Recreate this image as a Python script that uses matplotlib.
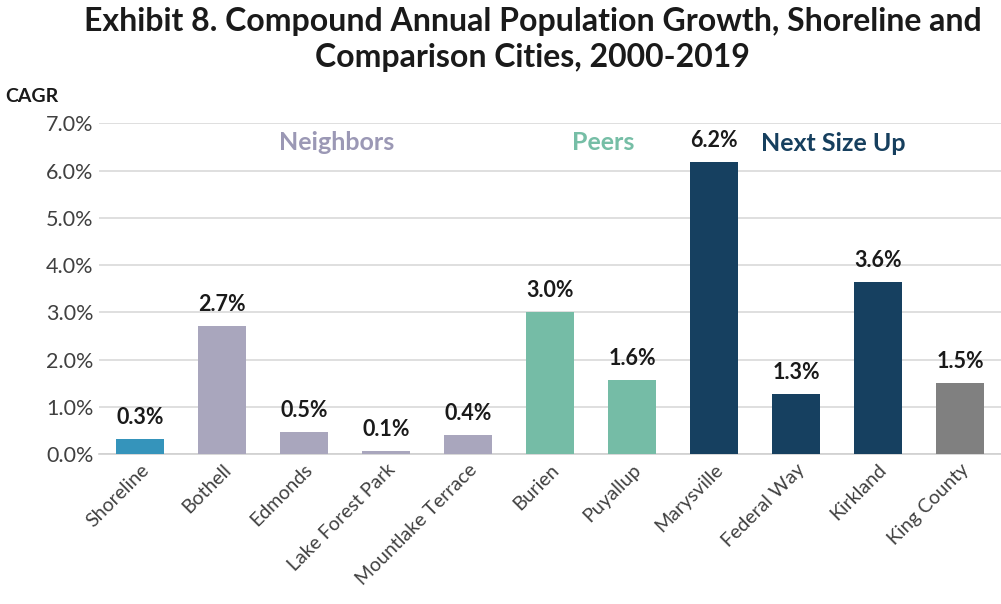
import matplotlib.pyplot as plt
from matplotlib.ticker import FuncFormatter

# Data
cities = ["Shoreline", "Bothell", "Edmonds", "Lake Forest Park", "Mountlake Terrace",
          "Burien", "Puyallup", "Marysville", "Federal Way", "Kirkland", "King County"]
cagr = [0.32, 2.71, 0.47, 0.07, 0.40, 3.01, 1.57, 6.18, 1.27, 3.64, 1.50]
labels = ["0.3%", "2.7%", "0.5%", "0.1%", "0.4%", "3.0%", "1.6%", "6.2%", "1.3%", "3.6%", "1.5%"]
groups = ["Shoreline", "Neighbors", "Neighbors", "Neighbors", "Neighbors",
          "Peers", "Peers", "Next Size Up", "Next Size Up", "Next Size Up", "County"]

group_colors = {
    "Shoreline": "#3594bb",
    "Neighbors": "#a9a6bd",
    "Peers": "#75bca6",
    "Next Size Up": "#164060",
    "County": "#808080",
}

plt.rcParams["font.family"] = ["Lato", "DejaVu Sans"]

fig = plt.figure(figsize=(10.01, 6.04), dpi=100)
ax = fig.add_axes([0.099, 0.248, 0.901, 0.548])

x = range(len(cities))
colors = [group_colors[g] for g in groups]
ax.bar(x, cagr, width=0.58, color=colors, zorder=3)

for xi, v, lab in zip(x, cagr, labels):
    ax.annotate(lab, (xi, v), xytext=(0, 8), textcoords="offset points",
                ha="center", va="bottom", fontsize=15.5, fontweight="bold", color="#1a1a1a")

ax.set_ylim(0, 7)
ax.set_xlim(-0.5, len(cities) - 0.5)
ax.set_yticks([0, 1, 2, 3, 4, 5, 6, 7])
ax.yaxis.set_major_formatter(FuncFormatter(lambda v, p: f"{v:.1f}%"))
ax.tick_params(axis="y", length=0, labelsize=15.5, labelcolor="#404040", pad=4)
ax.tick_params(axis="x", length=0, pad=5)
ax.set_xticks(list(x))
ax.set_xticklabels(cities, rotation=45, ha="right", rotation_mode="anchor",
                   fontsize=14, color="#404040")
ax.grid(axis="y", color="#d9d9d9", linewidth=1.2, zorder=0)
for s in ["top", "right", "left"]:
    ax.spines[s].set_visible(False)
ax.spines["bottom"].set_color("#d0d0d0")
ax.spines["bottom"].set_linewidth(1.2)

# group labels
ax.text(2.4, 6.6, "Neighbors", ha="center", va="center", fontsize=18,
        fontweight="bold", color="#9b98b5")
ax.text(5.65, 6.6, "Peers", ha="center", va="center", fontsize=18,
        fontweight="bold", color="#76bea6")
ax.text(8.45, 6.58, "Next Size Up", ha="center", va="center", fontsize=18,
        fontweight="bold", color="#163f5e")

fig.text(0.005, 0.84, "CAGR", fontsize=14, fontweight="bold", color="#1a1a1a",
         ha="left", va="center")
fig.text(0.532, 0.935, "Exhibit 8. Compound Annual Population Growth, Shoreline and\nComparison Cities, 2000-2019",
         ha="center", va="center", fontsize=23, fontweight="bold", color="#1a1a1a",
         linespacing=1.3)

fig.savefig("out.png", dpi=100)
